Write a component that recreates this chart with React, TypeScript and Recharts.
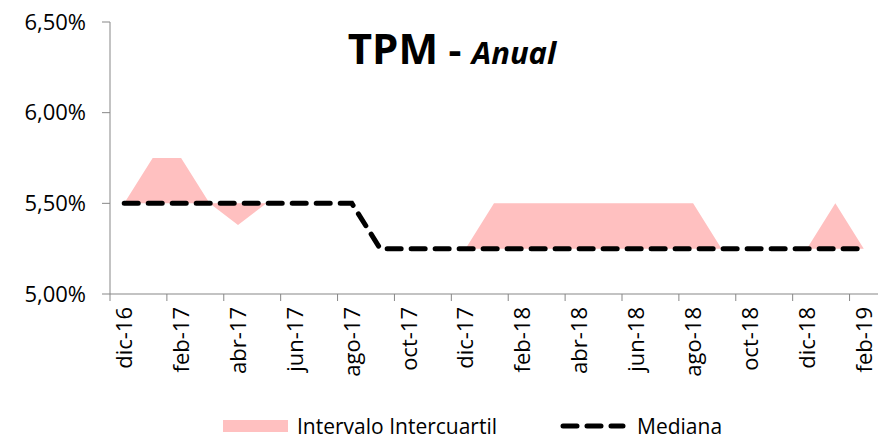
import { ComposedChart, Area, Line, XAxis, YAxis, Legend } from 'recharts'

const months = [
  'dic-16', 'ene-17', 'feb-17', 'mar-17', 'abr-17', 'may-17', 'jun-17', 'jul-17', 'ago-17',
  'sep-17', 'oct-17', 'nov-17', 'dic-17', 'ene-18', 'feb-18', 'mar-18', 'abr-18', 'may-18',
  'jun-18', 'jul-18', 'ago-18', 'sep-18', 'oct-18', 'nov-18', 'dic-18', 'ene-19', 'feb-19',
]

const mediana = [
  5.5, 5.5, 5.5, 5.5, 5.5, 5.5, 5.5, 5.5, 5.5,
  5.25, 5.25, 5.25, 5.25, 5.25, 5.25, 5.25, 5.25, 5.25,
  5.25, 5.25, 5.25, 5.25, 5.25, 5.25, 5.25, 5.25, 5.25,
]

const q1 = [
  5.5, 5.5, 5.5, 5.5, 5.38, 5.5, 5.5, 5.5, 5.5,
  5.25, 5.25, 5.25, 5.25, 5.25, 5.25, 5.25, 5.25, 5.25,
  5.25, 5.25, 5.25, 5.25, 5.25, 5.25, 5.25, 5.25, 5.25,
]

const q3 = [
  5.5, 5.75, 5.75, 5.5, 5.5, 5.5, 5.5, 5.5, 5.5,
  5.25, 5.25, 5.25, 5.25, 5.5, 5.5, 5.5, 5.5, 5.5,
  5.5, 5.5, 5.5, 5.25, 5.25, 5.25, 5.25, 5.5, 5.25,
]

const yTicks = [5, 5.5, 6, 6.5]

const data = months.map((m, i) => ({
  month: m,
  intervalo: [q1[i], q3[i]],
  mediana: mediana[i],
}))

const W = 878
const H = 441
const Y_W = 110
const FONT = '"Open Sans", sans-serif'
const AXIS = '#878787'
const band = (W - Y_W) / months.length

const fmt = (v: number) => v.toFixed(2).replace('.', ',') + '%'

function MonthTick(props: any) {
  const { x, y, payload } = props
  const lx = x - band / 2
  return (
    <g>
      <line x1={lx} y1={y} x2={lx} y2={y + 7} stroke={AXIS} strokeWidth={1} />
      <text
        x={x}
        y={y + 13}
        transform={`rotate(-90, ${x}, ${y + 13})`}
        textAnchor="end"
        dy="0.36em"
        fontSize={22}
        fontFamily={FONT}
        fill="#000"
      >
        {payload.value}
      </text>
    </g>
  )
}

// legend drawn from the series entries recharts hands over
function LegendBox(props: any) {
  const items = props.payload || []
  return (
    <div style={{ position: 'relative', height: 32, width: 600, fontFamily: FONT, fontSize: 21, color: '#000' }}>
      {items.map((it: any, i: number) => {
        const left = i === 0 ? 8 : 345
        return (
          <div key={i} style={{ position: 'absolute', left, top: 2, height: 30, display: 'flex', alignItems: 'center', whiteSpace: 'nowrap' }}>
            {it.type === 'rect' ? (
              <span style={{ display: 'inline-block', width: 65, height: 12, background: it.color }} />
            ) : (
              <svg width={66} height={12}>
                <line x1={3} y1={6} x2={63} y2={6} stroke="#000" strokeWidth={5} strokeDasharray="14 10" strokeLinecap="round" />
              </svg>
            )}
            <span style={{ marginLeft: i === 0 ? 9 : 11, lineHeight: '30px', paddingRight: 4 }}>{it.value}</span>
          </div>
        )
      })}
    </div>
  )
}

export default function App() {
  return (
    <div style={{ position: 'absolute', left: 0, top: 0, width: W, height: H, background: '#fff' }}>
      <ComposedChart width={W} height={H} data={data} margin={{ top: 22, right: 0, left: 0, bottom: 0 }}>
        <XAxis
          dataKey="month"
          scale="band"
          interval={1}
          tick={<MonthTick />}
          tickLine={false}
          tickSize={0}
          tickMargin={0}
          height={115}
          stroke={AXIS}
        />
        <YAxis
          domain={[5, 6.5]}
          ticks={yTicks}
          tickFormatter={fmt}
          width={Y_W}
          tickSize={8}
          tickMargin={16}
          stroke={AXIS}
          tick={{ fill: '#000', fontSize: 22, fontFamily: FONT }}
        />
        <Area
          type="linear"
          dataKey="intervalo"
          name="Intervalo Intercuartil"
          fill="#ffc0c0"
          fillOpacity={1}
          stroke="none"
          legendType="rect"
          isAnimationActive={false}
        />
        <Line
          type="linear"
          dataKey="mediana"
          name="Mediana"
          stroke="#000"
          strokeWidth={5}
          strokeDasharray="14 10"
          strokeLinecap="round"
          dot={false}
          legendType="line"
          isAnimationActive={false}
        />
        <Legend verticalAlign="bottom" content={<LegendBox />} wrapperStyle={{ left: 215, width: 600 }} />
      </ComposedChart>
      <div style={{ position: 'absolute', left: 452, top: 21, transform: 'translateX(-50%)', whiteSpace: 'nowrap', fontFamily: FONT, fontWeight: 700, color: '#000', lineHeight: '54px' }}>
        <span style={{ fontSize: 42 }}>TPM</span>
        <span style={{ fontSize: 40 }}> - </span>
        <span style={{ fontSize: 31, fontStyle: 'italic' }}>Anual</span>
      </div>
    </div>
  )
}
